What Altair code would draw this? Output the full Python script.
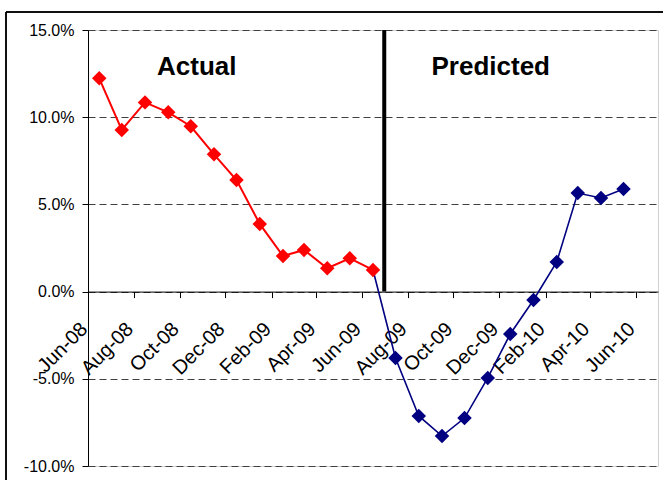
import altair as alt
import pandas as pd

# ---- data ----
actual_months = ["2008-06", "2008-07", "2008-08", "2008-09", "2008-10", "2008-11",
                 "2008-12", "2009-01", "2009-02", "2009-03", "2009-04", "2009-05", "2009-06"]
actual_values = [12.23, 9.27, 10.85, 10.28, 9.48, 7.87, 6.40, 3.88, 2.04, 2.39, 1.34, 1.91, 1.24]

predicted_months = ["2009-07", "2009-08", "2009-09", "2009-10", "2009-11", "2009-12",
                    "2010-01", "2010-02", "2010-03", "2010-04", "2010-05"]
predicted_values = [-3.81, -7.13, -8.28, -7.25, -4.95, -2.43, -0.48, 1.70, 5.65, 5.37, 5.88]

tick_months = [(2008, 6), (2008, 8), (2008, 10), (2008, 12), (2009, 2), (2009, 4), (2009, 6),
               (2009, 8), (2009, 10), (2009, 12), (2010, 2), (2010, 4), (2010, 6)]
y_ticks = [-10, -5, 0, 5, 10, 15]

divider_date = "2009-07-01T00:00:00"
labels = ["Actual", "Predicted"]
label_dates = ["2008-10-24T00:00:00", "2009-11-20T00:00:00"]
label_values = [12.4, 12.4]

# ---- tables ----
def mid(m):
    return m + "-16T00:00:00"

actual_df = pd.DataFrame({"date": [mid(m) for m in actual_months], "value": actual_values})
pred_df = pd.DataFrame({"date": [mid(m) for m in predicted_months], "value": predicted_values})
pred_line_df = pd.DataFrame({
    "date": [mid(actual_months[-1])] + [mid(m) for m in predicted_months],
    "value": [actual_values[-1]] + predicted_values,
})
label_df = pd.DataFrame({"date": label_dates, "value": label_values, "text": labels})
divider_df = pd.DataFrame({"date": [divider_date], "top": [15], "bottom": [0]})

FONT = "Liberation Sans"

x_scale = alt.Scale(domain=[alt.DateTime(year=2008, month=6, date=1),
                            alt.DateTime(year=2010, month=7, date=1)], nice=False)
y_scale = alt.Scale(domain=[-10, 15], nice=False, zero=False)

x_axis = alt.Axis(
    values=[alt.DateTime(year=y, month=m, date=1) for y, m in tick_months],
    format="%b-%y", labelAngle=-45, labelAlign="right", labelBaseline="middle",
    labelFont=FONT, labelFontSize=20, labelColor="black", labelPadding=28,
    labelOffset=-4, labelOverlap=False, labelFlush=False,
    tickSize=6, tickColor="black", domainColor="black", domainWidth=1,
    grid=False, title=None, offset=-174.4,
)
y_axis = alt.Axis(
    values=y_ticks,
    labelExpr="(datum.value < 0 ? '-' : '') + format(abs(datum.value), '.1f') + '%'",
    labelFont=FONT, labelFontSize=16, labelColor="black", labelPadding=8,
    tickSize=6, tickColor="black", domainColor="black", domainWidth=1,
    grid=True, gridColor="#404040", gridDash=[7, 4], gridWidth=1, title=None,
)

x_enc = alt.X("date:T", scale=x_scale, axis=x_axis)
y_enc = alt.Y("value:Q", scale=y_scale, axis=y_axis)

blue_line = alt.Chart(pred_line_df).mark_line(color="#000080", strokeWidth=1.6).encode(x=x_enc, y=y_enc)
blue_pts = alt.Chart(pred_df).mark_point(shape="diamond", filled=True, size=210, color="#000080",
                                         opacity=1).encode(x="date:T", y="value:Q")
red_line = alt.Chart(actual_df).mark_line(color="#FF0000", strokeWidth=2).encode(x="date:T", y="value:Q")
red_pts = alt.Chart(actual_df).mark_point(shape="diamond", filled=True, size=210, color="#FF0000",
                                          opacity=1).encode(x="date:T", y="value:Q")
divider = alt.Chart(divider_df).mark_rule(color="black", strokeWidth=4).encode(
    x="date:T", y="top:Q", y2="bottom:Q")
texts = alt.Chart(label_df).mark_text(font=FONT, fontSize=26, fontWeight="bold", color="black",
                                      align="center", baseline="alphabetic").encode(
    x="date:T", y="value:Q", text="text:N")

# outer frame of the original figure (left and top edges)
frame_left = alt.Chart(label_df).mark_rule(color="black", strokeWidth=1.5, clip=False).encode(
    x=alt.value(-82), y=alt.value(-18), y2=alt.value(470))
frame_top = alt.Chart(label_df).mark_rule(color="black", strokeWidth=1.5, clip=False).encode(
    x=alt.value(-82), x2=alt.value(575), y=alt.value(-18))

chart = alt.layer(blue_line, blue_pts, red_line, red_pts, divider, texts, frame_left, frame_top).properties(
    width=570, height=436,
    autosize=alt.AutoSizeParams(type="none"),
    padding={"left": 88, "top": 30, "right": 9, "bottom": 14},
    background="white",
).configure_view(stroke="#d0d0d0", strokeWidth=1)

chart.save("out.html", embed_options={"renderer": "svg", "actions": False})
